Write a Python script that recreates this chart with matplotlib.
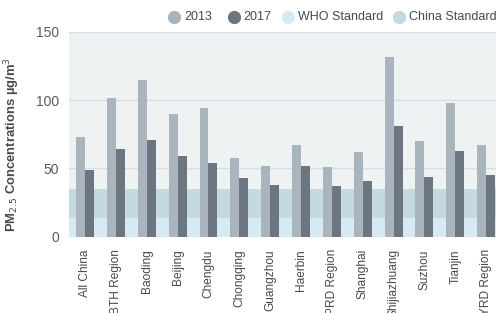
import matplotlib
matplotlib.use("Agg")
import matplotlib.pyplot as plt
from matplotlib.lines import Line2D
import numpy as np

categories = ["All China", "BTH Region", "Baoding", "Beijing", "Chengdu", "Chongqing",
              "Guangzhou", "Haerbin", "PRD Region", "Shanghai", "Shijiazhuang",
              "Suzhou", "Tianjin", "YRD Region"]
pm_2013 = [73, 102, 115, 90, 94, 58, 52, 67, 51, 62, 132, 70, 98, 67]
pm_2017 = [49, 64.5, 71, 59, 54, 43, 38, 52, 37, 41, 81, 44, 63, 45]
who_standard = 14
china_standard = 35
y_ticks = [0, 50, 100, 150]

c2013 = "#a9b4bd"
c2017 = "#6b7680"
cwho = "#d7eaf3"
cchina = "#c5d9e0"
bg = "#eff2f3"
grid_c = "#d6dce2"
text_c = "#444a50"

plt.rcParams['font.family'] = ['Liberation Sans', 'DejaVu Sans']

fig = plt.figure(figsize=(4.96, 3.13), dpi=100)
ax = fig.add_axes([69/496, 1-236.7/313, 1-69/496, (236.7-32)/313])
ax.set_facecolor(bg)

x = np.arange(len(categories))
w = 0.29
ax.axhspan(0, china_standard, color=cchina, lw=0, zorder=1)
ax.axhspan(0, who_standard, color=cwho, lw=0, zorder=1)
for t in y_ticks[1:]:
    ax.axhline(t, color=grid_c, lw=1, zorder=1.5)
ax.bar(x - w/2, pm_2013, width=w, color=c2013, zorder=2, lw=0)
ax.bar(x + w/2, pm_2017, width=w, color=c2017, zorder=2, lw=0)

ax.set_xlim(-0.52, 13.32)
ax.set_ylim(0, 150)
ax.set_yticks(y_ticks)
ax.set_yticklabels([str(t) for t in y_ticks], fontsize=10, color="#555a5f")
ax.set_xticks(x)
ax.set_xticklabels(categories, rotation=90, fontsize=8.6, color=text_c)
ax.tick_params(length=0)
ax.tick_params(axis='x', pad=9)
ax.tick_params(axis='y', pad=7)
for s in ax.spines.values():
    s.set_visible(False)

ax.set_ylabel("PM$_{2.5}$ Concentrations µg/m$^3$", fontsize=9.4, fontweight='bold',
              color=text_c)
ax.yaxis.set_label_coords(-0.11, 0.45)

# legend
ly = 1 - 17/313
items = [("2013", c2013, 174, 184), ("2017", c2017, 234, 243),
         ("WHO Standard", cwho, 288, 298), ("China Standard", cchina, 399, 409)]
for lab, col, cx, tx in items:
    fig.add_artist(Line2D([cx/496], [ly], marker='o', markersize=8.5, color=col,
                          linestyle='None', transform=fig.transFigure))
    fig.text(tx/496, ly, lab, fontsize=9, color=text_c, va='center', ha='left')

fig.savefig("out.png", dpi=100)
